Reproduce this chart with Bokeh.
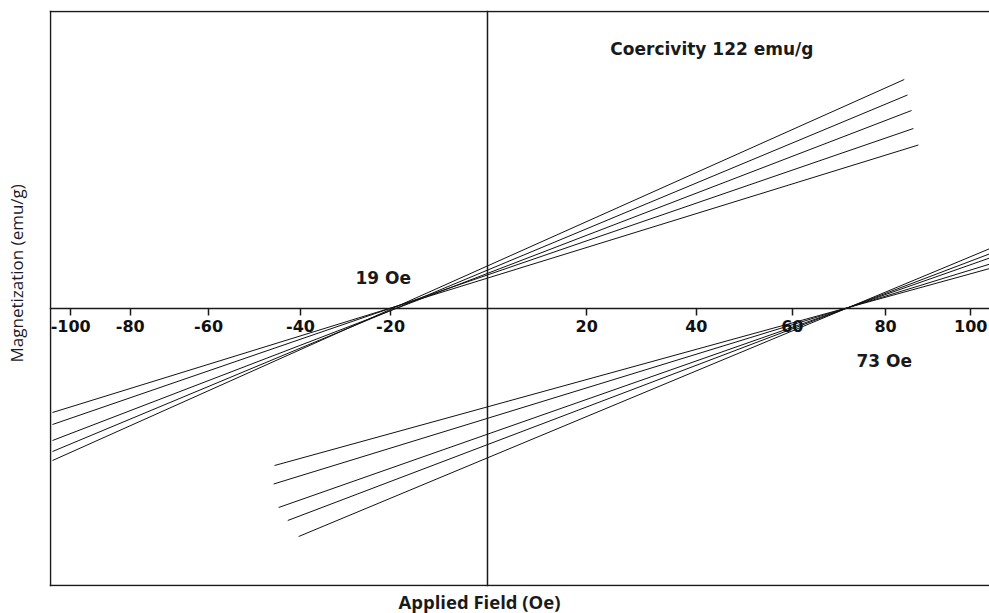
import math
from bokeh.plotting import figure
from bokeh.models import Range1d, LinearAxis, FixedTicker, Span, Label, Title
from bokeh.embed import file_html
from bokeh.resources import INLINE

# ---- data (field in drawn axis units, magnetization arbitrary units) ----
tick_labels = ["-100", "-80", "-60", "-40", "-20", "20", "40", "60", "80", "100"]
tick_pos = [-91.6, -78.5, -61.3, -41.1, -21.3, 21.8, 45.9, 67.0, 87.5, 106.2]

# descending branch (through the ~19 Oe crossing)
upper_field = [[-95.6, 91.6], [-95.6, 92.3], [-95.6, 93.2], [-95.6, 93.6], [-95.6, 94.7]]
upper_mag = [[-61.0, 91.4], [-57.4, 85.2], [-53.0, 79.0], [-46.6, 71.8], [-41.8, 65.2]]

# ascending branch (through the ~73 Oe crossing)
lower_field = [[-46.8, 111.0], [-47.0, 111.0], [-45.9, 111.0], [-43.9, 111.0], [-41.5, 111.0]]
lower_mag = [[-63.0, 16.1], [-70.4, 17.9], [-79.8, 20.4], [-85.0, 22.1], [-91.4, 24.2]]

annotations = ["Coercivity 122 emu/g", "19 Oe", "73 Oe"]
x_title = "Applied Field (Oe)"
y_title = "Magnetization (emu/g)"

X0, X1 = -96.26, 110.33
Y0, Y1 = -111.4, 119.0

p = figure(width=989, height=613, x_range=Range1d(X0, X1), y_range=Range1d(Y0, Y1),
           x_axis_location=None, y_axis_location=None, toolbar_location=None,
           output_backend="svg", min_border_left=49, min_border_right=0,
           min_border_top=10, min_border_bottom=27)
p.outline_line_color = None
p.xgrid.visible = False
p.ygrid.visible = False
p.background_fill_color = "white"
p.border_fill_color = "white"

# centred x axis at M = 0
xaxis = LinearAxis(fixed_location=0, ticker=FixedTicker(ticks=tick_pos),
                   major_label_overrides={t: l for t, l in zip(tick_pos, tick_labels)})
xaxis.axis_line_color = "#1a1a1a"
xaxis.axis_line_width = 1.5
xaxis.major_tick_line_color = "#1a1a1a"
xaxis.major_tick_line_width = 1.5
xaxis.major_tick_in = 0
xaxis.major_tick_out = 7
xaxis.minor_tick_line_color = None
xaxis.major_label_standoff = 5
xaxis.major_label_text_font = "DejaVu Sans"
xaxis.major_label_text_font_style = "bold"
xaxis.major_label_text_font_size = "16px"
xaxis.major_label_text_color = "#111111"
p.add_layout(xaxis, "below")

# frame lines (top, bottom, left) and the H = 0 line
p.add_layout(Span(location=118.6, dimension="width", line_color="#1a1a1a", line_width=1.5))
p.add_layout(Span(location=-111.0, dimension="width", line_color="#1a1a1a", line_width=1.5))
p.add_layout(Span(location=-96.04, dimension="height", line_color="#1a1a1a", line_width=1.5))
p.add_layout(Span(location=0, dimension="height", line_color="#1a1a1a", line_width=1.5))

# hysteresis branches
p.multi_line(xs=upper_field, ys=upper_mag, line_color="#111111", line_width=1)
p.multi_line(xs=lower_field, ys=lower_mag, line_color="#111111", line_width=1)

# annotations
for txt, x, y in [(annotations[0], 27.0, 103.8), (annotations[1], -29.0, 12.0),
                  (annotations[2], 81.1, -21.0)]:
    p.add_layout(Label(x=x, y=y, text=txt, text_font="DejaVu Sans",
                       text_font_style="bold", text_font_size="17px", text_color="#1a1a1a",
                       text_align="left", text_baseline="middle"))

# axis titles
p.add_layout(Title(text=x_title, align="left", offset=349, standoff=0,
                   vertical_align="bottom", text_font="Open Sans", text_font_style="bold",
                   text_font_size="18.5px", text_color="#1a1a1a"), "below")

# blank spacer between the frame and the y title
p.add_layout(Title(text="\u00a0", standoff=0, text_font="Open Sans",
                   text_font_size="13px"), "left")
p.add_layout(Title(text=y_title, align="left", offset=224, standoff=0,
                   vertical_align="top", text_font="Open Sans", text_font_style="normal",
                   text_font_size="17px", text_color="#1a1a2a"), "left")

open("out.html", "w").write(file_html(p, INLINE))
